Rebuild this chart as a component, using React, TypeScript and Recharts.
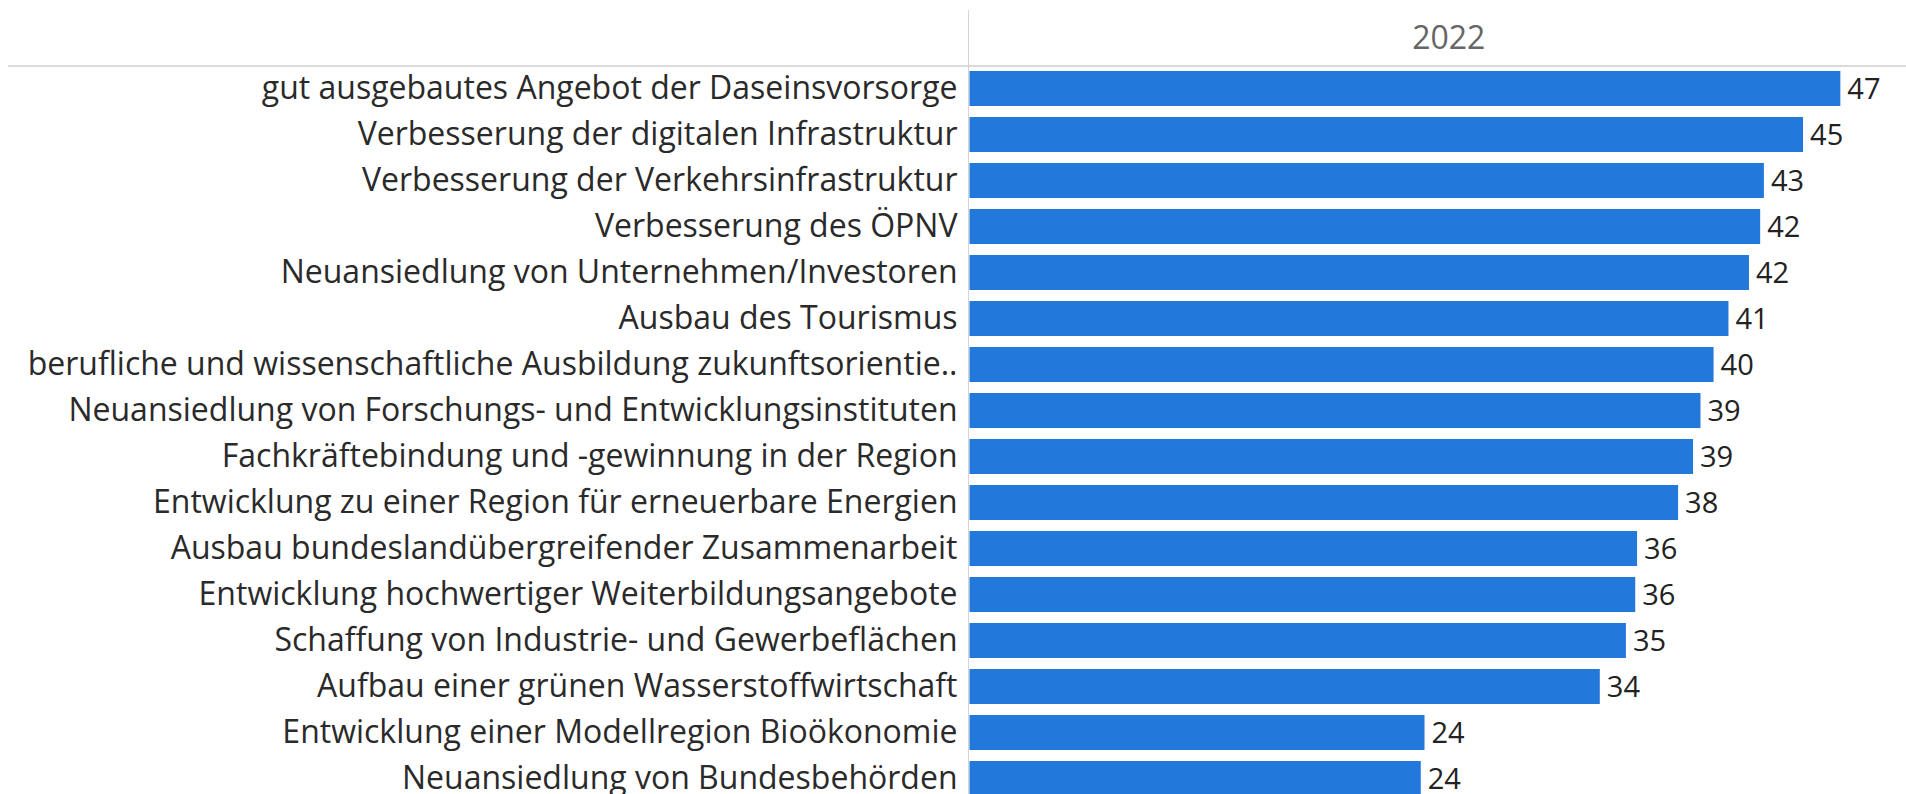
import { BarChart, Bar, XAxis, YAxis, LabelList } from "recharts";

const categories = [
  "gut ausgebautes Angebot der Daseinsvorsorge",
  "Verbesserung der digitalen Infrastruktur",
  "Verbesserung der Verkehrsinfrastruktur",
  "Verbesserung des ÖPNV",
  "Neuansiedlung von Unternehmen/Investoren",
  "Ausbau des Tourismus",
  "berufliche und wissenschaftliche Ausbildung zukunftsorientie..",
  "Neuansiedlung von Forschungs- und Entwicklungsinstituten",
  "Fachkräftebindung und -gewinnung in der Region",
  "Entwicklung zu einer Region für erneuerbare Energien",
  "Ausbau bundeslandübergreifender Zusammenarbeit",
  "Entwicklung hochwertiger Weiterbildungsangebote",
  "Schaffung von Industrie- und Gewerbeflächen",
  "Aufbau einer grünen Wasserstoffwirtschaft",
  "Entwicklung einer Modellregion Bioökonomie",
  "Neuansiedlung von Bundesbehörden",
];

// percent, 2022 (labels show rounded values)
const values2022 = [
  46.7, 44.7, 42.6, 42.4, 41.8, 40.7, 39.9, 39.2, 38.8, 38.0, 35.8, 35.7, 35.2,
  33.8, 24.4, 24.2,
];

const columnHeader = "2022";

const data = categories.map((name, i) => ({ name, value: values2022[i] }));

const FONT = "'Open Sans', sans-serif";

export default function App() {
  return (
    <div
      style={{
        position: "fixed",
        left: 0,
        top: 0,
        width: 1906,
        height: 794,
        overflow: "hidden",
        background: "#fff",
        fontFamily: FONT,
      }}
    >
      {/* header divider lines */}
      <div
        style={{
          position: "absolute",
          left: 8,
          top: 65,
          width: 1920,
          height: 2,
          background: "#dadada",
        }}
      />
      <div
        style={{
          position: "absolute",
          left: 968,
          top: 10,
          width: 1,
          height: 800,
          background: "#d4d4d4",
        }}
      />
      <div style={{ position: "absolute", left: 0, top: 0 }}>
        <BarChart
          width={1928}
          height={801}
          data={data}
          layout="vertical"
          margin={{ top: 10, right: 0, bottom: 0, left: 0 }}
        >
          <XAxis
            type="number"
            orientation="top"
            domain={[0, 51.4]}
            height={55}
            tick={false}
            tickLine={false}
            axisLine={false}
            label={{
              value: columnHeader,
              position: "center",
              fill: "#666",
              fontSize: 32,
              fontFamily: FONT,
            }}
          />
          <YAxis
            type="category"
            dataKey="name"
            width={969.5}
            interval={0}
            tickLine={false}
            axisLine={false}
            tickSize={0}
            tickMargin={12}
            tick={{ fill: "#2a2a2a", fontSize: 32, fontFamily: FONT }}
          />
          <Bar dataKey="value" fill="#2378db" barSize={35} isAnimationActive={false}>
            <LabelList
              dataKey="value"
              position="right"
              offset={7}
              fill="#222"
              fontSize={29}
              fontFamily={FONT}
              formatter={(v: number) => Math.round(v)}
            />
          </Bar>
        </BarChart>
      </div>
    </div>
  );
}
